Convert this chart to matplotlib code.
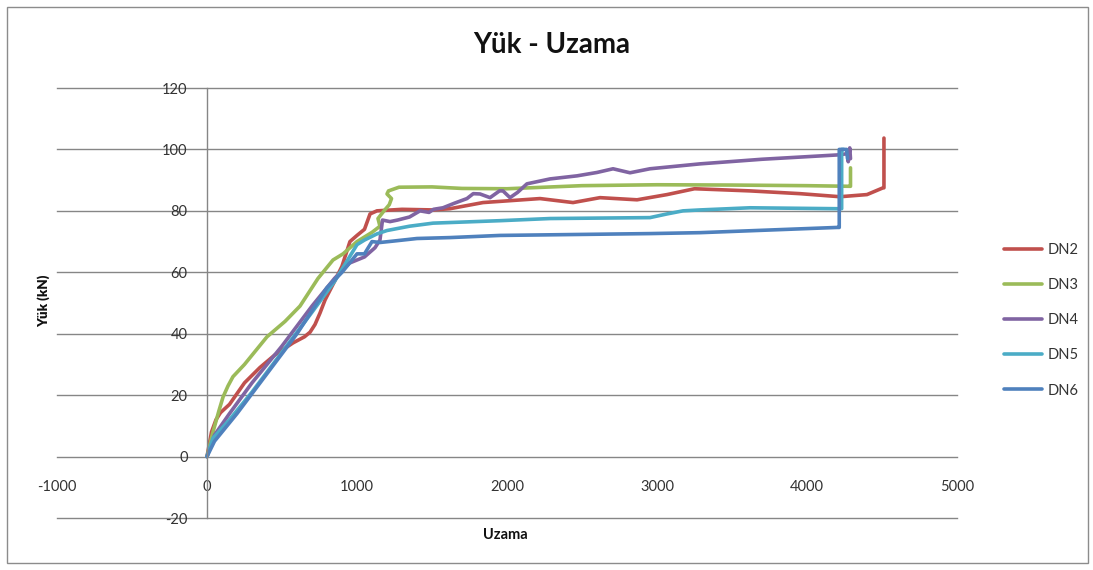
import matplotlib
matplotlib.use("Agg")
import matplotlib.pyplot as plt
from matplotlib.patches import Rectangle

plt.rcParams['font.family'] = ['Lato', 'DejaVu Sans']
plt.rcParams['axes.unicode_minus'] = False

# Load-elongation records for each specimen
dn2_x = [0, 30, 60, 90, 150, 250, 353, 450, 573, 650, 687, 720, 753, 787, 850, 900, 953, 1000, 1050,
         1087, 1133, 1300, 1507, 1620, 1840, 2220, 2440, 2620, 2867, 3067, 3250, 3620, 3953, 4220,
         4400, 4507, 4513, 4513]
dn2_y = [0, 8, 12, 14.3, 17, 24, 29, 33, 37, 39, 40.5, 43, 46.7, 51, 57, 62, 70, 72, 74,
         79, 80, 80.5, 80.3, 80.7, 82.7, 84, 82.7, 84.3, 83.6, 85.3, 87.2, 86.5, 85.6, 84.6,
         85.3, 87.5, 87.5, 103.7]

dn3_x = [0, 40, 80, 107, 140, 173, 250, 400, 520, 620, 740, 840, 907, 1000, 1100, 1153, 1140, 1180,
         1215, 1230, 1200, 1210, 1280, 1500, 1700, 2000, 2500, 3000, 3500, 4000, 4280, 4290, 4290]
dn3_y = [0, 8, 15, 19.4, 23, 26, 30, 39, 44, 49, 58, 64, 66, 70, 73, 75, 77.5, 80,
         82, 84, 85.5, 86.5, 87.7, 87.8, 87.3, 87.2, 88.2, 88.5, 88.4, 88.2, 88, 88, 94]

dn4_x = [0, 50, 150, 300, 500, 700, 850, 950, 1050, 1120, 1153, 1170, 1220, 1270, 1350, 1420, 1480,
         1510, 1573, 1650, 1733, 1775, 1820, 1887, 1950, 1973, 2020, 2070, 2133, 2287, 2467, 2600,
         2707, 2820, 2953, 3287, 3700, 4200, 4270, 4275, 4285, 4290]
dn4_y = [0, 7, 14, 24, 36, 49, 58, 63, 65, 68, 70.5, 77, 76.5, 77, 78, 80, 79.5,
         80.5, 81, 82.5, 84, 85.6, 85.5, 84.3, 86.5, 86.5, 84.3, 86, 88.8, 90.4, 91.4, 92.5,
         93.7, 92.4, 93.7, 95.3, 96.8, 98.2, 98.6, 96, 100.5, 97]

dn5_x = [0, 40, 150, 300, 500, 700, 850, 950, 1000, 1050, 1133, 1200, 1350, 1507, 1620, 1953, 2287,
         2953, 3067, 3173, 3287, 3620, 4200, 4231, 4231, 4245]
dn5_y = [0, 6, 12, 21, 34, 47, 57, 65, 69, 70.5, 72.5, 73.6, 75, 76, 76.2, 76.8, 77.5,
         77.8, 79, 80, 80.3, 81, 80.7, 80.7, 100, 100]

dn6_x = [0, 50, 200, 400, 600, 800, 900, 950, 1000, 1050, 1100, 1153, 1250, 1400, 1620, 1953, 2953,
         3287, 4200, 4215, 4215, 4264, 4270]
dn6_y = [0, 5, 14, 27, 40, 55, 60, 63, 66, 66, 70, 69.7, 70.2, 71, 71.3, 72, 72.6,
         72.9, 74.6, 74.6, 100, 100, 97]

series = [
    ("DN2", dn2_x, dn2_y, "#C0504D"),
    ("DN3", dn3_x, dn3_y, "#9BBB59"),
    ("DN4", dn4_x, dn4_y, "#8064A2"),
    ("DN5", dn5_x, dn5_y, "#4BACC6"),
    ("DN6", dn6_x, dn6_y, "#4F81BD"),
]

x_ticks = [-1000, 0, 1000, 2000, 3000, 4000, 5000]
y_ticks = [-20, 0, 20, 40, 60, 80, 100, 120]

W, H = 1093, 570
fig = plt.figure(figsize=(W / 100, H / 100), dpi=100)
fig.patch.set_facecolor("white")

# outer chart frame
fig.patches.append(Rectangle((7 / W, 1 - 563 / H), (1088 - 7) / W, (563 - 7) / H,
                             transform=fig.transFigure, fill=False,
                             edgecolor="#8c8c8c", lw=1))

ax = fig.add_axes([57 / W, 1 - 518 / H, 900 / W, 430 / H])
ax.set_xlim(-1000, 5000)
ax.set_ylim(-20, 120)
ax.set_xticks(x_ticks)
ax.set_yticks(y_ticks)

for name in ("top", "right"):
    ax.spines[name].set_visible(False)
ax.spines["left"].set_position(("data", 0))
ax.spines["left"].set_color("#868686")
ax.spines["left"].set_linewidth(1)
ax.spines["bottom"].set_position(("data", 0))
ax.spines["bottom"].set_visible(False)

# horizontal major gridlines across the full plot area
for yv in y_ticks:
    ax.axhline(yv, color="#868686", lw=1, clip_on=False, zorder=0.5)

ax.tick_params(axis="both", length=0, labelsize=10.5, labelcolor="#333333")
ax.tick_params(axis="x", pad=17)
ax.tick_params(axis="y", pad=14)

for name, xs, ys, color in series:
    ax.plot(xs, ys, color=color, lw=2.6, label=name, solid_joinstyle="round",
            solid_capstyle="round", zorder=2)

fig.text(552 / W, 1 - 45 / H, "Yük - Uzama", ha="center", va="center",
         fontsize=20, fontweight="bold", color="#111111")
fig.text(44 / W, 1 - 301 / H, "Yük (kN)", ha="center", va="center", rotation=90,
         fontsize=9.5, fontweight="heavy", color="#111111")
fig.text(505 / W, 1 - 535 / H, "Uzama", ha="center", va="center",
         fontsize=10.5, fontweight="bold", color="#111111")

leg = ax.legend(loc="upper left", bbox_to_anchor=(1004 / W, 1 - 243 / H),
                bbox_transform=fig.transFigure, frameon=False, fontsize=10.5,
                handlelength=2.6, handletextpad=0.4, labelspacing=1.45,
                borderpad=0, borderaxespad=0)
for t in leg.get_texts():
    t.set_color("#333333")

fig.savefig("out.png", dpi=100, facecolor="white")
